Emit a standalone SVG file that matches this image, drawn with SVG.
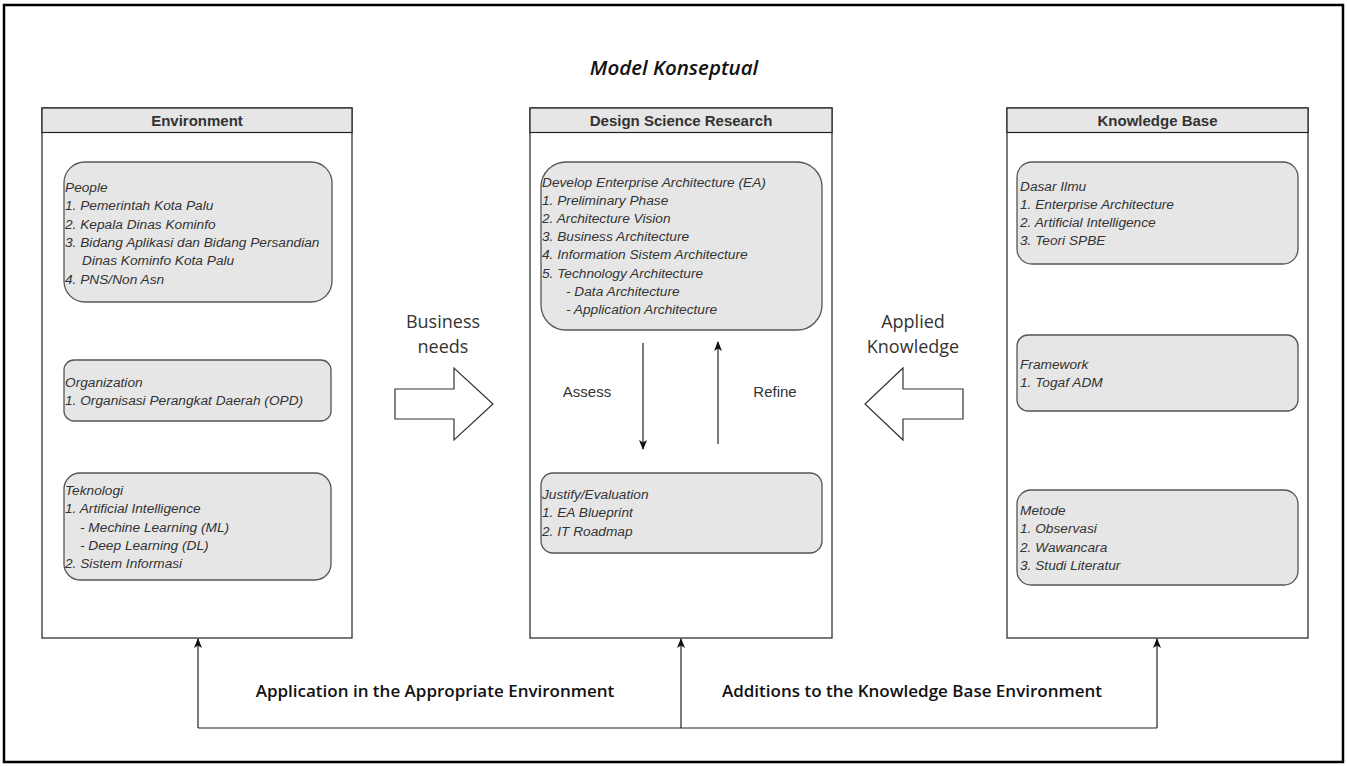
<svg xmlns="http://www.w3.org/2000/svg" width="1347" height="766" viewBox="0 0 1347 766">
  <defs>
    <marker id="arrow" viewBox="0 0 10 10" refX="9" refY="5" markerWidth="10" markerHeight="10" markerUnits="userSpaceOnUse" orient="auto">
      <path d="M0,1 L10,5 L0,9 L2.5,5 Z" fill="#111"/>
    </marker>
    <style>
      .frame { fill: #fff; stroke: #000; stroke-width: 2.5; }
      .pool { fill: #fff; stroke: #222; stroke-width: 1.2; }
      .hdr { fill: #e6e6e6; stroke: #222; stroke-width: 1.2; }
      .hdr-t { font-family: "Liberation Sans", Arial, sans-serif; font-size: 15px; font-weight: bold; fill: #333; text-anchor: middle; }
      .card { fill: #e6e6e6; stroke: #555; stroke-width: 1.3; }
      .card-t { font-family: "Liberation Sans", Arial, sans-serif; font-size: 13.7px; font-style: italic; fill: #333; }
      .title { font-family: "Open Sans", sans-serif; font-size: 20.5px; font-style: italic; font-weight: 600; fill: #111; text-anchor: middle; }
      .flow { font-family: "Open Sans", sans-serif; font-size: 18px; fill: #333; text-anchor: middle; }
      .lbl { font-family: "Liberation Sans", Arial, sans-serif; font-size: 15px; fill: #333; text-anchor: middle; }
      .foot { font-family: "Open Sans", sans-serif; font-size: 17px; font-weight: 600; fill: #111; text-anchor: middle; }
      .conn { fill: none; stroke: #222; stroke-width: 1.2; }
      .block { fill: #fff; stroke: #333; stroke-width: 1.2; }
    </style>
  </defs>

  <rect class="frame" x="4" y="5" width="1339" height="757"/>
  <text class="title" x="674" y="75">Model Konseptual</text>

  <!-- Environment column -->
  <g id="environment">
    <rect class="pool" x="42" y="108" width="310" height="530"/>
    <rect class="hdr" x="42" y="108" width="310" height="24.5"/>
    <text class="hdr-t" x="197" y="126">Environment</text>
  </g>
  <g id="env-people">
    <rect class="card" x="64" y="162" width="268" height="140" rx="21"/>
    <text class="card-t" x="65" y="192">
      <tspan x="65" dy="0">People</tspan>
      <tspan x="65" dy="18.3">1. Pemerintah Kota Palu</tspan>
      <tspan x="65" dy="18.3">2. Kepala Dinas Kominfo</tspan>
      <tspan x="65" dy="18.3">3. Bidang Aplikasi dan Bidang Persandian</tspan>
      <tspan x="82" dy="18.3">Dinas Kominfo Kota Palu</tspan>
      <tspan x="65" dy="18.3">4. PNS/Non Asn</tspan>
    </text>
  </g>
  <g id="env-organization">
    <rect class="card" x="64" y="360" width="267" height="61" rx="10"/>
    <text class="card-t" x="65" y="386.5">
      <tspan x="65" dy="0">Organization</tspan>
      <tspan x="65" dy="18.3">1. Organisasi Perangkat Daerah (OPD)</tspan>
    </text>
  </g>
  <g id="env-teknologi">
    <rect class="card" x="64" y="473" width="267" height="107" rx="16"/>
    <text class="card-t" x="65" y="495">
      <tspan x="65" dy="0">Teknologi</tspan>
      <tspan x="65" dy="18.3">1. Artificial Intelligence</tspan>
      <tspan x="80" dy="18.3">- Mechine Learning (ML)</tspan>
      <tspan x="80" dy="18.3">- Deep Learning (DL)</tspan>
      <tspan x="65" dy="18.3">2. Sistem Informasi</tspan>
    </text>
  </g>

  <!-- Design Science Research column -->
  <g id="dsr">
    <rect class="pool" x="530" y="108" width="302" height="530"/>
    <rect class="hdr" x="530" y="108" width="302" height="24.5"/>
    <text class="hdr-t" x="681" y="126">Design Science Research</text>
  </g>
  <g id="dsr-develop">
    <rect class="card" x="541" y="162" width="281" height="168" rx="25"/>
    <text class="card-t" x="542" y="187">
      <tspan x="542" dy="0">Develop Enterprise Architecture (EA)</tspan>
      <tspan x="542" dy="18.1">1. Preliminary Phase</tspan>
      <tspan x="542" dy="18.1">2. Architecture Vision</tspan>
      <tspan x="542" dy="18.1">3. Business Architecture</tspan>
      <tspan x="542" dy="18.1">4. Information Sistem Architecture</tspan>
      <tspan x="542" dy="18.1">5. Technology Architecture</tspan>
      <tspan x="566" dy="18.1">- Data Architecture</tspan>
      <tspan x="566" dy="18.1">- Application Architecture</tspan>
    </text>
  </g>
  <g id="dsr-justify">
    <rect class="card" x="541" y="473" width="281" height="80" rx="12"/>
    <text class="card-t" x="542" y="499">
      <tspan x="542" dy="0">Justify/Evaluation</tspan>
      <tspan x="542" dy="18.3">1. EA Blueprint</tspan>
      <tspan x="542" dy="18.3">2. IT Roadmap</tspan>
    </text>
  </g>

  <!-- Knowledge Base column -->
  <g id="knowledge-base">
    <rect class="pool" x="1007" y="108" width="301" height="530"/>
    <rect class="hdr" x="1007" y="108" width="301" height="24.5"/>
    <text class="hdr-t" x="1157.5" y="126">Knowledge Base</text>
  </g>
  <g id="kb-dasar">
    <rect class="card" x="1017" y="162" width="281" height="102" rx="15"/>
    <text class="card-t" x="1020" y="190.5">
      <tspan x="1020" dy="0">Dasar Ilmu</tspan>
      <tspan x="1020" dy="18.3">1. Enterprise Architecture</tspan>
      <tspan x="1020" dy="18.3">2. Artificial Intelligence</tspan>
      <tspan x="1020" dy="18.3">3. Teori SPBE</tspan>
    </text>
  </g>
  <g id="kb-framework">
    <rect class="card" x="1017" y="335" width="281" height="76" rx="11"/>
    <text class="card-t" x="1020" y="368.5">
      <tspan x="1020" dy="0">Framework</tspan>
      <tspan x="1020" dy="18.3">1. Togaf ADM</tspan>
    </text>
  </g>
  <g id="kb-metode">
    <rect class="card" x="1017" y="490" width="281" height="95" rx="14"/>
    <text class="card-t" x="1020" y="515">
      <tspan x="1020" dy="0">Metode</tspan>
      <tspan x="1020" dy="18.3">1. Observasi</tspan>
      <tspan x="1020" dy="18.3">2. Wawancara</tspan>
      <tspan x="1020" dy="18.3">3. Studi Literatur</tspan>
    </text>
  </g>

  <!-- Block arrows between columns -->
  <g id="business-needs">
    <path class="block" d="M395,389 H454 V368 L493,404 L454,440 V419 H395 Z"/>
    <text class="flow" x="443" y="328">Business</text>
    <text class="flow" x="443" y="353">needs</text>
  </g>
  <g id="applied-knowledge">
    <path class="block" d="M963,389 H903 V368 L865,404 L903,440 V419 H963 Z"/>
    <text class="flow" x="913" y="328">Applied</text>
    <text class="flow" x="913" y="353">Knowledge</text>
  </g>

  <!-- Connectors -->
  <g id="connectors">
    <line class="conn" x1="643" y1="343" x2="643" y2="449" marker-end="url(#arrow)"/>
    <line class="conn" x1="718" y1="444" x2="718" y2="342" marker-end="url(#arrow)"/>
    <polyline class="conn" points="198,728 1157,728"/>
    <line class="conn" x1="198" y1="728" x2="198" y2="639" marker-end="url(#arrow)"/>
    <line class="conn" x1="681" y1="728" x2="681" y2="639" marker-end="url(#arrow)"/>
    <line class="conn" x1="1157" y1="728" x2="1157" y2="639" marker-end="url(#arrow)"/>
  </g>
  <text class="lbl" x="587" y="397">Assess</text>
  <text class="lbl" x="775" y="397">Refine</text>
  <text class="foot" x="435" y="697">Application in the Appropriate Environment</text>
  <text class="foot" x="912" y="697">Additions to the Knowledge Base Environment</text>
</svg>
